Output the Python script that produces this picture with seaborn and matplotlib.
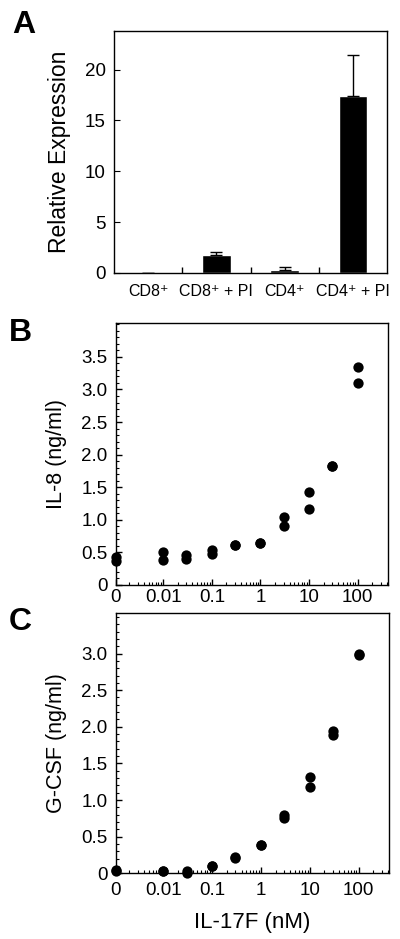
import numpy as np
import pandas as pd
import matplotlib
matplotlib.use("Agg")
import matplotlib.pyplot as plt
from matplotlib.ticker import MultipleLocator, FixedLocator, NullFormatter, LogLocator
import seaborn as sns

# ---------------- data ----------------
cell_groups = ["CD8\u207a", "CD8\u207a + PI", "CD4\u207a", "CD4\u207a + PI"]
rel_expr = [0.0, 1.8, 0.3, 17.4]
rel_err = [0.0, 0.3, 0.25, 4.0]

conc_b = [0, 0, 0.01, 0.01, 0.03, 0.03, 0.1, 0.1, 0.3, 0.3, 1, 1, 3, 3, 10, 10, 30, 30, 100, 100]
il8 = [0.43, 0.37, 0.51, 0.39, 0.46, 0.40, 0.53, 0.47, 0.61, 0.61, 0.65, 0.65,
       1.05, 0.91, 1.42, 1.17, 1.83, 1.83, 3.34, 3.10]

conc_c = [0, 0, 0.01, 0.01, 0.03, 0.03, 0.1, 0.1, 0.3, 0.3, 1, 1, 3, 3, 10, 10, 30, 30, 100, 100]
gcsf = [0.05, 0.03, 0.03, 0.03, 0.03, 0.0, 0.10, 0.10, 0.22, 0.21, 0.39, 0.39,
        0.79, 0.76, 1.32, 1.18, 1.94, 1.89, 3.0, 2.98]

x_tick_vals = [0, 0.01, 0.1, 1, 10, 100]
x_tick_labels = ["0", "0.01", "0.1", "1", "10", "100"]
y_ticks_b = [0, 0.5, 1.0, 1.5, 2.0, 2.5, 3.0, 3.5]
y_ticks_c = [0, 0.5, 1.0, 1.5, 2.0, 2.5, 3.0]

ZERO_POS = 0.00105  # where "0" sits on the log axis

# ---------------- style ----------------
sns.set_style("ticks")
plt.rcParams['font.family'] = ['Liberation Sans', 'DejaVu Sans']
plt.rcParams['axes.linewidth'] = 1.0
plt.rcParams['axes.edgecolor'] = 'black'
plt.rcParams['text.color'] = 'black'
plt.rcParams['axes.labelcolor'] = 'black'
plt.rcParams['xtick.color'] = 'black'
plt.rcParams['ytick.color'] = 'black'

fig = plt.figure(figsize=(4.0, 9.39), dpi=100)

axA = fig.add_axes([0.285, 0.7093, 0.6825, 0.2577])
axB = fig.add_axes([0.289, 0.377, 0.681, 0.279])
axC = fig.add_axes([0.289, 0.070, 0.6835, 0.2769])

# ---------------- panel A ----------------
dfA = pd.DataFrame({"group": cell_groups, "value": rel_expr, "err": rel_err})
sns.barplot(data=dfA, x="group", y="value", color="black", width=0.42,
            errorbar=None, ax=axA, saturation=1)
xs = np.arange(len(cell_groups))
axA.errorbar(xs, dfA["value"], yerr=[np.zeros(len(xs)), dfA["err"]], fmt="none",
             ecolor="black", elinewidth=1.0, capsize=4, capthick=1.0)
axA.set_xlim(-0.5, 3.5)
axA.set_ylim(0, 23.8)
axA.yaxis.set_major_locator(MultipleLocator(5))
axA.set_xlabel("")
axA.set_ylabel("Relative Expression", fontsize=16.5, labelpad=10)
axA.tick_params(axis="x", which="major", length=0, labelsize=11.5, pad=8)
axA.xaxis.set_minor_locator(FixedLocator([0.5, 1.5, 2.5]))
axA.tick_params(axis="x", which="minor", direction="in", length=4, width=1)
axA.tick_params(axis="y", which="major", direction="in", length=4, labelsize=13.5, pad=6)
for s in axA.spines.values():
    s.set_visible(True)
    s.set_color("black")

# ---------------- panels B & C ----------------
def scatter_panel(ax, conc, vals, ylabel, ytop, yticks, xpad):
    df = pd.DataFrame({"conc": conc, "val": vals})
    df["xpos"] = np.where(df["conc"] == 0, ZERO_POS, df["conc"])
    sns.scatterplot(data=df, x="xpos", y="val", color="black", s=55,
                    linewidth=0, ax=ax, clip_on=False, zorder=5)
    ax.set_xscale("log")
    ax.set_xlim(0.00105, 420)
    ax.set_ylim(0, ytop)
    ax.set_xticks([ZERO_POS if v == 0 else v for v in x_tick_vals])
    ax.set_xticklabels(x_tick_labels)
    ax.xaxis.set_minor_locator(LogLocator(base=10, subs=np.arange(2, 10), numticks=20))
    ax.xaxis.set_minor_formatter(NullFormatter())
    ax.yaxis.set_major_locator(FixedLocator(yticks))
    ax.set_yticklabels(["0" if v == 0 else f"{v:.1f}" for v in yticks])
    ax.yaxis.set_minor_locator(MultipleLocator(0.1))
    ax.tick_params(axis="both", which="major", direction="in", length=4, width=1,
                   labelsize=13.5)
    ax.tick_params(axis="both", which="minor", direction="in", length=2, width=0.8)
    ax.tick_params(axis="y", which="major", pad=6)
    ax.tick_params(axis="x", which="major", pad=xpad)
    ax.set_ylabel(ylabel, fontsize=15.5, labelpad=10)
    ax.set_xlabel("")
    for s in ax.spines.values():
        s.set_visible(True)
        s.set_color("black")

scatter_panel(axB, conc_b, il8, "IL-8 (ng/ml)", 4.02, y_ticks_b, 3)
scatter_panel(axC, conc_c, gcsf, "G-CSF (ng/ml)", 3.55, y_ticks_c, 6)
axC.set_xlabel("IL-17F (nM)", fontsize=16, labelpad=10)

# ---------------- panel letters ----------------
fig.text(0.03, 0.973, "A", fontsize=23, fontweight="bold", va="center", ha="left")
fig.text(0.022, 0.645, "B", fontsize=23, fontweight="bold", va="center", ha="left")
fig.text(0.022, 0.338, "C", fontsize=23, fontweight="bold", va="center", ha="left")

fig.savefig("out.png", dpi=100)
